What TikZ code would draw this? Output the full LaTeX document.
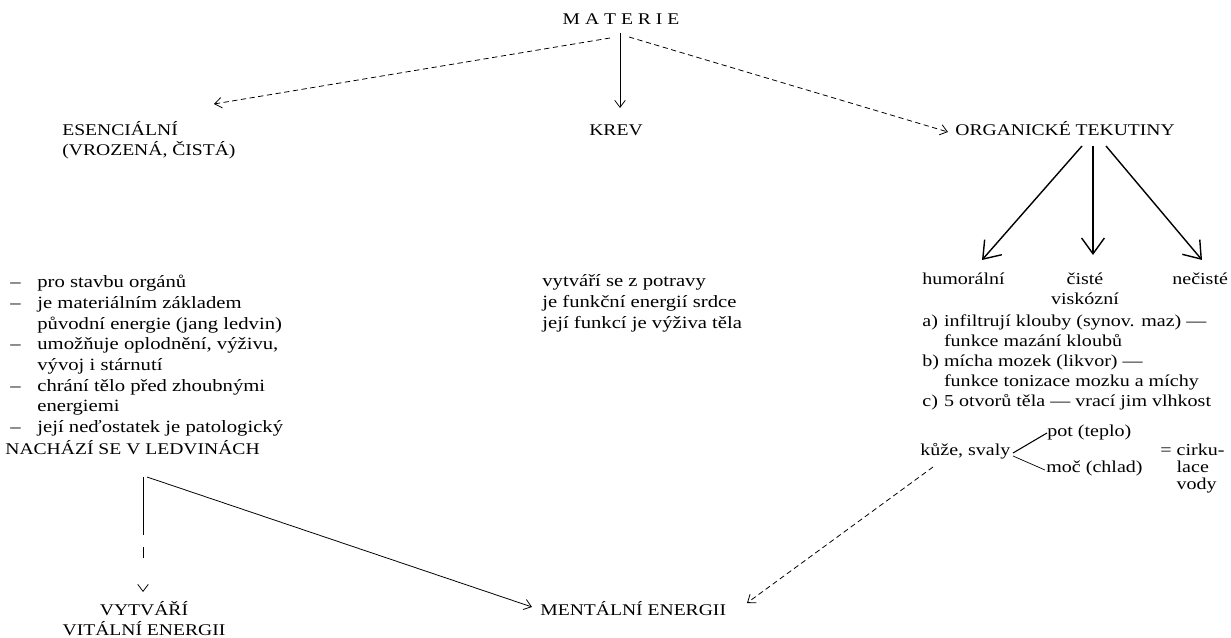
\documentclass[tikz,border=0pt]{standalone}
\usepackage{fontspec}
\setmainfont{Liberation Serif}[FakeStretch=1.2]
\usetikzlibrary{arrows.meta}

\begin{document}
\begin{tikzpicture}[x=0.02cm,y=-0.02cm,
    >={Straight Barb[length=4pt,width=6pt]},
    every node/.style={inner sep=0pt,font=\fontsize{9.8}{11.74}\selectfont},
    txt/.style={anchor=base west},
    caps/.style={font=\fontsize{9.3}{11.2}\selectfont},
    rtxt/.style={anchor=base west,font=\fontsize{9.5}{11.34}\selectfont},
    link/.style={->,line width=0.45pt},
    dlink/.style={->,line width=0.45pt,densely dashed},
    biglink/.style={->,line width=0.8pt,>={Straight Barb[length=9pt,width=13pt]}}]
    \useasboundingbox (0,0) rectangle (1231,638);

    % top row
    \node[caps,anchor=base] (materie) at (621,25) {M A T E R I E};
    \node[caps,txt] (esenc) at (62,136) {\begin{tabular}[t]{@{}l@{}}ESENCIÁLNÍ\\(VROZENÁ, ČISTÁ)\end{tabular}};
    \node[caps,anchor=base] (krev) at (616,136) {KREV};
    \node[caps,txt] (organ) at (955,136) {ORGANICKÉ TEKUTINY};

    \draw[dlink] ([shift={(-11,13)}]materie.base) -- ([shift={(152,-32)}]esenc.base west);
    \draw[link] ([shift={(-1,8)}]materie.base) -- ([shift={(4,-28)}]krev.base);
    \draw[dlink] ([shift={(8,12)}]materie.base) -- ([shift={(-7,-4)}]organ.base west);

    % left column
    \node[txt] (list) at (10,288) {\begin{tabular}[t]{@{}l@{\hspace{9.5pt}}l@{}}
        -- & pro stavbu orgánů\\
        -- & je materiálním základem\\
           & původní energie (jang ledvin)\\
        -- & umožňuje oplodnění, výživu,\\
           & vývoj i stárnutí\\
        -- & chrání tělo před zhoubnými\\
           & energiemi\\
        -- & její neďostatek je patologický
    \end{tabular}};
    \node[caps,txt] (nachazi) at (5,455) {NACHÁZÍ SE V LEDVINÁCH};
    \node[caps,anchor=base,font=\fontsize{9.3}{11.9}\selectfont] (vytvari) at (144,615) {\begin{tabular}[t]{@{}c@{}}VYTVÁŘÍ\\VITÁLNÍ ENERGII\end{tabular}};

    % middle column
    \node[txt] (krevtext) at (542,287) {\begin{tabular}[t]{@{}l@{}}
        vytváří se z potravy\\
        je funkční energií srdce\\
        její funkcí je výživa těla
    \end{tabular}};
    \node[caps,txt] (mental) at (540,615) {MENTÁLNÍ ENERGII};

    % right column
    \node[rtxt] (humoral) at (922,285) {humorální};
    \node[rtxt,anchor=base] (ciste) at (1085,285) {\begin{tabular}[t]{@{}c@{}}čisté\\viskózní\end{tabular}};
    \node[rtxt] (necis) at (1172,285) {nečisté};
    \node[rtxt] (funkce) at (922,327) {\begin{tabular}[t]{@{}l@{\ }l@{}}
        a) & infiltrují klouby (synov. maz) ---\\
           & funkce mazání kloubů\\
        b) & mícha mozek (likvor) ---\\
           & funkce tonizace mozku a míchy\\
        c) & 5 otvorů těla --- vrací jim vlhkost
    \end{tabular}};
    \node[rtxt] (kuze) at (920,456) {kůže, svaly};
    \node[rtxt] (pot) at (1047,437) {pot (teplo)};
    \node[rtxt] (moc) at (1046,473) {moč (chlad)};
    \node[rtxt,font=\fontsize{9.5}{9.35}\selectfont] (cirk) at (1160,456) {\begin{tabular}[t]{@{}l@{\ }l@{}}
        = & cirku-\\
          & lace\\
          & vody
    \end{tabular}};

    \draw[biglink] ([shift={(127,10)}]organ.base west) -- ([shift={(60,-25)}]humoral.base west);
    \draw[biglink] ([shift={(138,10)}]organ.base west) -- ([shift={(8,-30)}]ciste.base);
    \draw[biglink] ([shift={(151,10)}]organ.base west) -- ([shift={(30,-25)}]necis.base west);

    \draw[line width=0.6pt] ([shift={(93,-3)}]kuze.base west) -- ([shift={(0,-4)}]pot.base west);
    \draw[line width=0.4pt] ([shift={(93,0)}]kuze.base west) -- ([shift={(-1,-3)}]moc.base west);

    % to mental energy
    \draw[dlink] ([shift={(13,11)}]kuze.base west) -- ([shift={(207,-12)}]mental.base west);
    \draw[link] ([shift={(142,22)}]nachazi.base west) -- ([shift={(-8,-8)}]mental.base west);
    \draw[link,dash pattern=on 33pt off 7pt on 6pt off 20pt] ([shift={(138,22)}]nachazi.base west) -- ([shift={(-1,-23)}]vytvari.base);
\end{tikzpicture}
\end{document}
